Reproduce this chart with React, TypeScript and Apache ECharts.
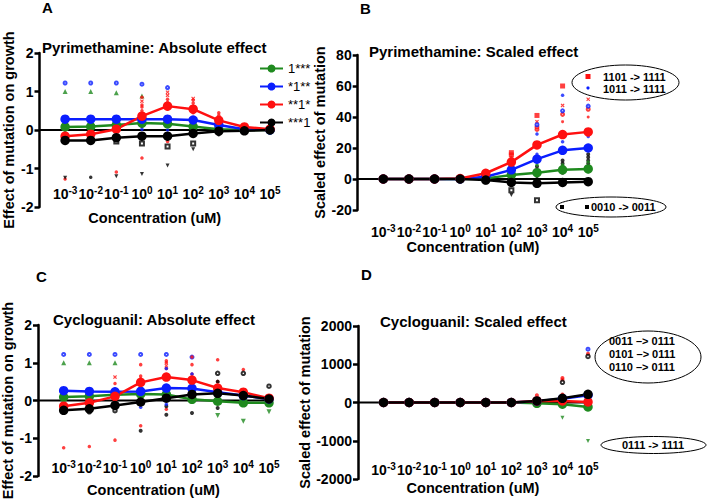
import React, { useEffect, useRef } from "react";
import * as echarts from "echarts";

const FONT = '"Liberation Sans", Arial, Helvetica, sans-serif';

// concentration exponents (10^x uM)
const exps = [-3, -2, -1, 0, 1, 2, 3, 4, 5];
const seriesNames = ["1***", "*1**", "**1*", "***1"];
const colors = ["#1f8a1f", "#0a1eff", "#ff1010", "#000000"];

// Panel A: Pyrimethamine absolute effect
const aGreen = [0.08, 0.09, 0.13, 0.18, 0.16, 0.09, 0.02, 0.0, 0.0];
const aBlue = [0.28, 0.28, 0.28, 0.28, 0.28, 0.26, 0.13, 0.02, 0.0];
const aRed = [-0.16, -0.11, 0.02, 0.36, 0.62, 0.54, 0.25, 0.08, 0.02];
const aBlack = [-0.27, -0.27, -0.2, -0.16, -0.16, -0.09, -0.03, -0.02, 0.0];

// Panel B: Pyrimethamine scaled effect
const bGreen = [0, 0, 0, 0, 0.4, 2.6, 4.1, 5.9, 6.5];
const bBlue = [0, 0, 0, 0, 1.5, 5.9, 12.8, 18.5, 20];
const bRed = [0, 0, 0, 0.3, 3.7, 10.9, 22, 28.7, 30.4];
const bBlack = [0, 0, 0, 0, -0.7, -2.2, -2.8, -2.2, -1.7];

// Panel C: Cycloguanil absolute effect
const cGreen = [0.09, 0.11, 0.15, 0.17, 0.16, 0.03, -0.02, -0.06, -0.06];
const cBlue = [0.26, 0.24, 0.23, 0.24, 0.33, 0.32, 0.22, 0.13, 0.04];
const cRed = [-0.15, -0.06, 0.11, 0.48, 0.62, 0.54, 0.33, 0.22, 0.06];
const cBlack = [-0.26, -0.22, -0.13, -0.04, 0.06, 0.16, 0.19, 0.13, 0.04];

// Panel D: Cycloguanil scaled effect
const dGreen = [0, 0, 0, 0, 0, 0, -20, -45, -115];
const dBlue = [0, 0, 0, 0, 0, 0, 35, 100, 190];
const dRed = [0, 0, 0, 0, 0, 0, 40, 40, 15];
const dBlack = [0, 0, 0, 0, 0, 0, 40, 110, 215];

// individual mutation effects [exponent, value]
const aBlueRing = [[-3, 1.22], [-2, 1.22], [-1, 1.22], [0, 1.19], [1, 1.1]];
const aGreenTri = [[-3, 1.0], [-2, 1.0], [-1, 0.97], [0, 0.88]];
const aRedCross = [[0, 0.75], [1, 0.98], [1, 0.9], [2, 0.82], [-1, 0.3]];
const aRedDot = [[0, 0.85], [0, 0.65], [0, 0.6], [0, 0.5], [1, 0.8], [1, 0.72], [1, 0.6], [2, 0.78], [2, 0.7], [2, 0.62], [2, 0.45], [3, 0.45], [3, 0.38], [3, 0.3], [3, 0.18], [4, 0.12], [-3, -1.27], [-1, -1.09], [0, -0.73], [1, -0.3], [-3, 0.18], [-2, 0.2], [-1, 0.33]];
const aBlackDot = [[-2, -1.23], [1, 0.55], [-3, 0.0], [-2, 0.02], [-1, 0.05], [0, 0.1], [3, -0.12], [4, -0.06], [5, -0.04], [2, -0.05]];
const aBlackSq = [[-1, -0.3], [0, -0.35], [1, -0.43], [2, -0.35]];
const aBlackTriDown = [[-3, -1.24], [-1, -1.2], [0, -1.14], [1, -0.92], [2, -0.5]];
const aBlueDot = [[0, 0.02], [1, 0.0], [0, 0.3], [1, 0.25], [-3, 0.1], [-2, 0.12]];

const bRedSq = [[3, 41], [4, 60], [2, 17], [2, 15.5]];
const bRedCross = [[3, 37], [4, 47.5], [5, 51.5]];
const bRedRing = [[3, 32], [3, 33.5], [4, 41.7], [5, 45], [4, 30], [5, 30]];
const bRedDot = [[4, 37], [5, 40], [2, 14], [2, 12.5], [1, 4.5]];
const bBlueRing = [[3, 35], [4, 44], [5, 47]];
const bBlueDot = [[4, 54], [5, 27.5], [3, 29], [4, 24], [3, 16]];
const bBlackDot = [[3, 2], [3, 4], [3, 6], [3, 8], [4, 4], [4, 6], [4, 8], [4, 10], [4, 12], [5, 5], [5, 8], [5, 10], [5, 12], [5, 14], [5, 16], [2, 1], [2, 3]];
const bBlackSq = [[2, -7.2], [3, -13.7]];
const bBlackTriDown = [[2, -10.4], [-3, -1.8], [-2, -1.8], [-1, -1.8], [0, -1.8], [1, -2.5]];
const bGreenDot = [[3, 9], [4, 9], [5, 11]];

const cBlueRing = [[-3, 1.22], [-2, 1.22], [-1, 1.22], [0, 1.22], [1, 1.22], [2, 1.15]];
const cGreenTri = [[-3, 1.0], [-2, 1.0], [-1, 1.0]];
const cGreenTriDown = [[3, -0.4], [4, -0.55], [5, -0.3]];
const cRedCross = [[-1, 0.62], [1, 0.92]];
const cRedDot = [[0, 0.95], [0, 0.65], [0, 0.58], [1, 1.05], [1, 1.0], [1, 0.85], [2, 1.15], [2, 0.95], [2, 0.7], [3, 1.08], [3, 0.5], [4, 0.82], [-1, 0.45], [-1, 0.3], [-3, -1.25], [-2, -1.22], [-1, -1.05], [0, -0.67], [1, -0.23], [-3, 0.2], [-2, 0.25]];
const cBlackRing = [[3, 0.72], [4, 0.72], [5, 0.38], [0, 0.3], [-1, -0.27], [-2, -0.3]];
const cBlackDot = [[3, 0.5], [2, -0.33], [3, -0.2], [2, 0.5], [2, 0.4], [0, -0.8], [1, -0.38], [1, -0.15], [0, 0.05]];
const cBlueDot = [[1, 0.85], [0, -0.18], [1, -0.1], [2, 0.7]];

const dBlueRing = [[5, 1394]];
const dRedDot = [[5, 1272], [4, 640], [4, 597], [3, 190], [4, 207], [5, 251]];
const dBlackRing = [[5, 1203], [4, 528], [5, 50], [4, 60]];
const dGreenTriDown = [[4, -398], [5, -1004]];
const dBlackTriDown = [[-3, -60], [-2, -60], [-1, -60], [0, -60], [1, -60], [2, -60], [3, -60]];

const CROSS = "path://M0 2L2 0L5 3L8 0L10 2L7 5L10 8L8 10L5 7L2 10L0 8L3 5Z";

function App() {
  const ref = useRef<HTMLDivElement>(null);
  useEffect(() => {
    if (!ref.current) return;
    const chart = echarts.init(ref.current, null, { renderer: "svg" });

    const grids = [
      { left: 39.5, top: 53, width: 230.5, height: 154 },
      { left: 357.7, top: 55, width: 230.5, height: 155 },
      { left: 38, top: 325, width: 231, height: 151 },
      { left: 358, top: 326, width: 230, height: 153 },
    ].map((g) => ({ ...g, outerBoundsMode: "none", containLabel: false }));

    const xAx = (gi: number, margin: number, nameGap: number) => ({
      type: "value",
      gridIndex: gi,
      min: -4,
      max: 5,
      interval: 1,
      axisLine: { show: false, onZero: false },
      axisTick: { show: false },
      splitLine: { show: false },
      axisLabel: {
        margin,
        verticalAlign: "middle",
        formatter: (v: number) => (v < -3 ? "" : `{b|10}{s|${v}}`),
        rich: {
          b: { fontSize: 14, fontWeight: "bold", fontFamily: FONT, color: "#000", lineHeight: 17 },
          s: { fontSize: 10, fontWeight: "bold", fontFamily: FONT, color: "#000", lineHeight: 8, verticalAlign: "top" },
        },
      },
      name: "Concentration (uM)",
      nameLocation: "middle",
      nameGap,
      nameTextStyle: { fontSize: 14.5, fontWeight: "bold", color: "#000", fontFamily: FONT, verticalAlign: "middle" },
    });

    const yAx = (gi: number, min: number, max: number, interval: number, nameGap: number, name: string) => ({
      type: "value",
      gridIndex: gi,
      min,
      max,
      interval,
      axisLine: { show: true, onZero: false, lineStyle: { color: "#000", width: 2.5 } },
      axisTick: { show: true, length: 5, lineStyle: { color: "#000", width: 2.5 } },
      splitLine: { show: false },
      axisLabel: { margin: 6, fontSize: 14, fontWeight: "bold", color: "#000", fontFamily: FONT, formatter: (v: number) => String(v) },
      name,
      nameLocation: "middle",
      nameGap,
      nameTextStyle: { fontSize: 14.5, fontWeight: "bold", color: "#000", fontFamily: FONT, verticalAlign: "middle" },
    });

    const zero = (gi: number) => ({
      type: "line",
      xAxisIndex: gi,
      yAxisIndex: gi,
      data: [[-4, 0], [5, 0]],
      symbol: "none",
      lineStyle: { color: "#000", width: 2 },
      silent: true,
      z: 1,
    });

    const line = (gi: number, k: number, vals: number[]) => ({
      type: "line",
      name: seriesNames[k],
      xAxisIndex: gi,
      yAxisIndex: gi,
      data: exps.map((e, i) => [e, vals[i]]),
      symbol: "circle",
      symbolSize: 9.5,
      lineStyle: { color: colors[k], width: 2.5 },
      itemStyle: { color: colors[k] },
      z: 3,
    });

    const scat = (gi: number, data: number[][], color: string, symbol: string, size: number, rotate = 0) => ({
      type: "scatter",
      xAxisIndex: gi,
      yAxisIndex: gi,
      data,
      symbol,
      symbolSize: size,
      symbolRotate: rotate,
      itemStyle: { color, borderColor: color, borderWidth: symbol.startsWith("empty") ? 1 : 0 },
      z: 2,
      silent: true,
    });

    const G = colors[0], B = colors[1], R = colors[2], K = colors[3];

    const series: any[] = [
      zero(0), zero(1), zero(2), zero(3),
      scat(0, aBlueRing, B, "emptyCircle", 3),
      scat(0, aGreenTri, G, "triangle", 5),
      scat(0, aRedCross, R, CROSS, 4),
      scat(0, aRedDot, R, "circle", 3.5),
      scat(0, aBlackDot, K, "circle", 3.5),
      scat(0, aBlackSq, K, "emptyRect", 4),
      scat(0, aBlackTriDown, K, "triangle", 4, 180),
      scat(0, aBlueDot, B, "circle", 3.5),
      scat(1, bRedSq, R, "rect", 5),
      scat(1, bRedCross, R, CROSS, 4),
      scat(1, bRedRing, R, "emptyCircle", 3),
      scat(1, bRedDot, R, "circle", 3),
      scat(1, bBlueRing, B, "emptyCircle", 3),
      scat(1, bBlueDot, B, "circle", 3.5),
      scat(1, bBlackDot, K, "circle", 4),
      scat(1, bBlackSq, K, "emptyRect", 4),
      scat(1, bBlackTriDown, K, "triangle", 4, 180),
      scat(1, bGreenDot, G, "circle", 3.5),
      scat(2, cBlueRing, B, "emptyCircle", 3),
      scat(2, cGreenTri, G, "triangle", 5),
      scat(2, cGreenTriDown, G, "triangle", 5, 180),
      scat(2, cRedCross, R, CROSS, 4),
      scat(2, cRedDot, R, "circle", 3.5),
      scat(2, cBlackRing, K, "emptyCircle", 3.5),
      scat(2, cBlackDot, K, "circle", 4),
      scat(2, cBlueDot, B, "circle", 3.5),
      scat(3, dBlueRing, B, "emptyCircle", 3),
      scat(3, dRedDot, R, "circle", 4),
      scat(3, dBlackRing, K, "emptyCircle", 3.5),
      scat(3, dGreenTriDown, G, "triangle", 4, 180),
      scat(3, dBlackTriDown, K, "triangle", 4, 180),
    ];
    const panels = [
      [aGreen, aBlue, aRed, aBlack],
      [bGreen, bBlue, bRed, bBlack],
      [cGreen, cBlue, cRed, cBlack],
      [dGreen, dBlue, dRed, dBlack],
    ];
    panels.forEach((p, gi) => p.forEach((vals, k) => series.push(line(gi, k, vals))));

    const titleStyle = { fontSize: 15, fontWeight: "bold", color: "#000", fontFamily: FONT };
    const t = (text: string, left: number, top: number) => ({ text, left, top, padding: 0, textStyle: titleStyle });

    const ann = (text: string, x: number, y: number) => ({
      type: "text",
      x,
      y,
      style: { text, fill: "#000", font: `bold 11px ${FONT}`, verticalAlign: "middle", align: "left" },
    });
    const ell = (cx: number, cy: number, rx: number, ry: number) => ({
      type: "ellipse",
      shape: { cx, cy, rx, ry },
      style: { fill: "none", stroke: "#000", lineWidth: 1 },
    });

    chart.setOption({
      animation: false,
      backgroundColor: "#fff",
      title: [
        t("A", 42, 0),
        t("Pyrimethamine: Absolute effect", 42, 40),
        t("B", 360, 1),
        t("Pyrimethamine: Scaled effect", 369, 44),
        t("C", 36, 269),
        t("Cycloguanil: Absolute effect", 53, 312),
        t("D", 361, 267),
        t("Cycloguanil: Scaled effect", 380, 314),
      ],
      legend: {
        data: seriesNames,
        left: 254,
        top: 57,
        orient: "vertical",
        itemGap: 5,
        itemWidth: 23,
        itemHeight: 10,
        textStyle: { fontSize: 13, color: "#000", fontFamily: FONT },
      },
      grid: grids,
      xAxis: [xAx(0, -13, 11), xAx(1, 22, 37), xAx(2, -8, 14), xAx(3, -9, 8)],
      yAxis: [
        yAx(0, -2, 2, 1, 31, "Effect of mutation on growth"),
        yAx(1, -20, 80, 20, 26, "Scaled effect of mutation"),
        yAx(2, -2, 2, 1, 29.5, "Effect of mutation on growth"),
        yAx(3, -2000, 2000, 1000, 28, "Scaled effect of mutation"),
      ],
      series,
      graphic: [
        ell(625.5, 82.5, 53.5, 17.5),
        { type: "rect", shape: { x: 585.5, y: 74, width: 5, height: 5 }, style: { fill: R } },
        ann("1101 -> 1111", 603, 76.5),
        { type: "circle", shape: { cx: 588, cy: 88, r: 1.6 }, style: { fill: B } },
        ann("1011 -> 1111", 603, 88.5),
        ell(611, 207, 55, 10),
        { type: "rect", shape: { x: 560, y: 205, width: 4, height: 4 }, style: { fill: K } },
        { type: "rect", shape: { x: 585, y: 205, width: 4, height: 4 }, style: { fill: K } },
        ann("0010 -> 0011", 591, 207),
        ell(648, 357, 53, 26),
        ann("0011 –> 0111", 609, 341),
        ann("0101 –> 0111", 609, 354),
        ann("0110 –> 0111", 609, 367),
        ell(653.5, 445, 52.5, 8.5),
        ann("0111 -> 1111", 622, 445),
      ],
    });
    return () => chart.dispose();
  }, []);
  return <div ref={ref} style={{ position: "fixed", left: 0, top: 0, width: 707, height: 501 }} />;
}

export default App;
